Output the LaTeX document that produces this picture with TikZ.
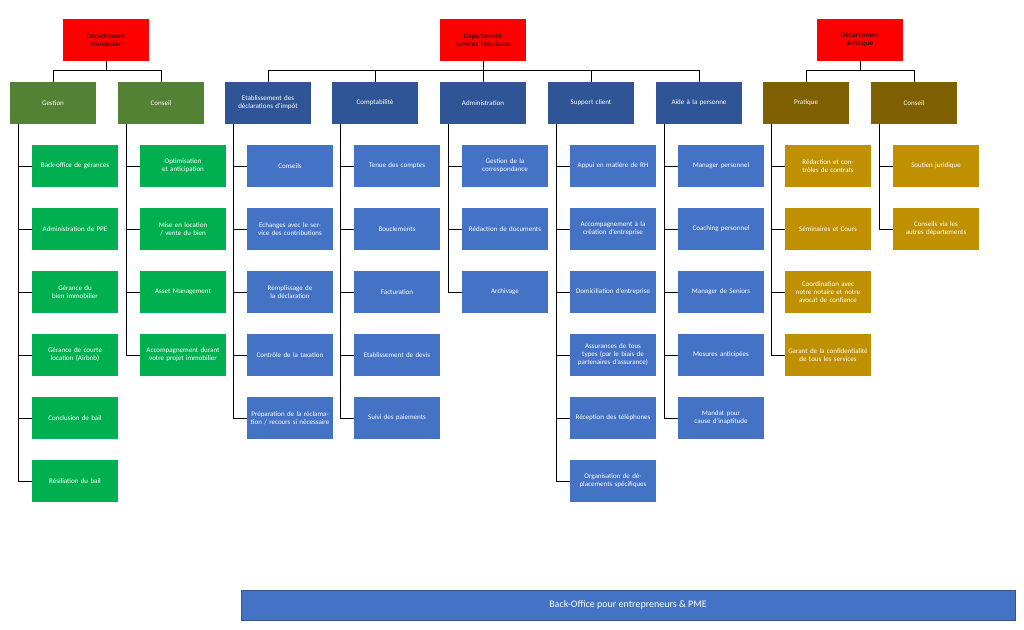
\documentclass[tikz,border=0pt]{standalone}
\usepackage{fontspec}
\setmainfont{Carlito}
\usetikzlibrary{positioning}
\definecolor{rouge}{HTML}{FF0000}
\definecolor{vertfonce}{HTML}{548235}
\definecolor{vert}{HTML}{00B050}
\definecolor{bleufonce}{HTML}{2F5597}
\definecolor{bleu}{HTML}{4472C4}
\definecolor{brun}{HTML}{7F6000}
\definecolor{or}{HTML}{BF9000}
\begin{document}
\begin{tikzpicture}[x=1pt,y=-1pt,font=\fontsize{7}{8}\selectfont,
			box/.style={text=white,minimum width=86pt,minimum height=42pt,text width=80pt,align=center,inner sep=2pt},
			dept/.style={box,fill=rouge,text=black},
			link/.style={draw=black,thick}]
			\useasboundingbox (0,0) rectangle (1024,629);
			% departements
			\node[dept] (DI) at (106,40) {Département\\Immobilier};
			\node[dept] (DF) at (483,40) {Département\\Services Fiduciaires};
			\node[dept] (DJ) at (860,40) {Département\\Juridique};
			% categories
			\node[box,fill=vertfonce] (G) at (53,103) {Gestion};
			\node[box,fill=vertfonce] (C) at (161,103) {Conseil};
			\node[box,fill=bleufonce] (E) at (268,103) {Etablissement des déclarations d'impôt};
			\node[box,fill=bleufonce] (K) at (375,103) {Comptabilité};
			\node[box,fill=bleufonce] (A) at (483,103) {Administration};
			\node[box,fill=bleufonce] (S) at (591,103) {Support client};
			\node[box,fill=bleufonce] (P) at (699,103) {Aide à la personne};
			\node[box,fill=brun] (R) at (806,103) {Pratique};
			\node[box,fill=brun] (J) at (914,103) {Conseil};
			% liens departements
			\draw[link] (DI.south) -- (106,70) (53,70) -- (161,70) (G.north) -- (53,70) (C.north) -- (161,70);
			\draw[link] (DF.south) -- (483,70) (268,70) -- (699,70);
			\foreach \n/\x in {E/268,K/375,A/483,S/591,P/699}
				\draw[link] (\n.north) -- (\x,70);
			\draw[link] (DJ.south) -- (860,70) (806,70) -- (914,70) (R.north) -- (806,70) (J.north) -- (914,70);
			% feuilles
			\foreach \p/\c/\items in {
				G/vert/{Back-office de gérances,Administration de PPE,Gérance du bien immobilier,Gérance de courte location (Airbnb),Conclusion de bail,Résiliation du bail},
				C/vert/{Optimisation et anticipation,Mise en location / vente du bien,Asset Management,Accompagnement durant votre projet immobilier},
				E/bleu/{Conseils,Echanges avec le service des contributions,Remplissage de la déclaration,Contrôle de la taxation,Préparation de la réclamation / recours si nécessaire},
				K/bleu/{Tenue des comptes,Bouclements,Facturation,Etablissement de devis,Suivi des paiements},
				A/bleu/{Gestion de la correspondance,Rédaction de documents,Archivage},
				S/bleu/{Appui en matière de RH,Accompagnement à la création d'entreprise,Domiciliation d'entreprise,Assurances de tous types (par le biais de partenaires d'assurance),Réception des téléphones,Organisation de déplacements spécifiques},
				P/bleu/{Manager  personnel,Coaching  personnel,Manager de Seniors,Mesures  anticipées,Mandat pour cause d'inaptitude},
				R/or/{Rédaction et contrôles de contrats,Séminaires et Cours,Coordination avec notre notaire et notre avocat de confiance,Garant de la confidentialité de tous les services},
				J/or/{Soutien juridique,Conseils via les autres départements}} {
				\foreach \t [count=\i] in \items {
					\node[box,fill=\c] (\p\i) at ([xshift=22pt,yshift=-63*\i] \p) {\t};
					\draw[link] ([xshift=-35pt]\p.south) |- (\p\i.west);
				}
			}
			% bandeau
			\node[draw=bleufonce,thick,fill=bleu,text=white,minimum width=774pt,minimum height=30pt,font=\fontsize{10}{12}\selectfont] (B) at (628,605) {Back-Office pour entrepreneurs \& PME};
\end{tikzpicture}
\end{document}
